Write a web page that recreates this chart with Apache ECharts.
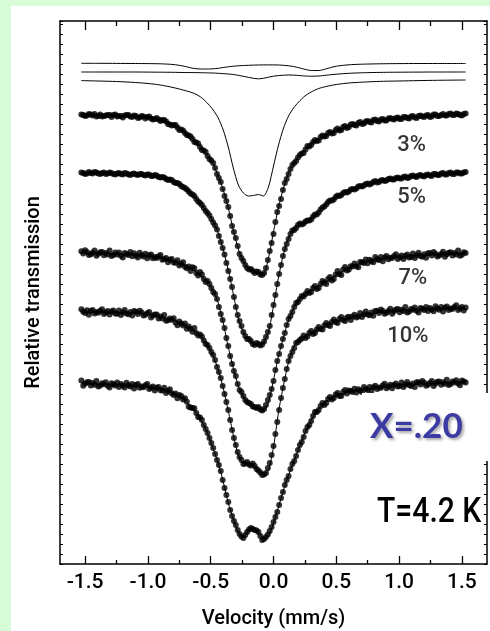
<!DOCTYPE html>
<html><head><meta charset="utf-8">
<script src="https://cdn.jsdelivr.net/npm/echarts@6/dist/echarts.min.js"></script>
<style>
html,body{margin:0;padding:0;background:#d8fcd8;width:490px;height:631px;overflow:hidden}
#chart{position:absolute;left:11px;top:6px;width:479px;height:625px;background:#fff}
</style></head><body><div id="chart"></div>
<script>
// Velocity channels (mm/s) of the measured spectra
const velocity = [-1.53,-1.515,-1.5,-1.485,-1.47,-1.455,-1.44,-1.425,-1.41,-1.395,-1.38,-1.365,-1.35,-1.335,-1.32,-1.305,-1.29,-1.275,-1.26,-1.245,-1.23,-1.215,-1.2,-1.185,-1.17,-1.155,-1.14,-1.125,-1.11,-1.095,-1.08,-1.065,-1.05,-1.035,-1.02,-1.005,-0.99,-0.975,-0.96,-0.945,-0.93,-0.915,-0.9,-0.885,-0.87,-0.855,-0.84,-0.825,-0.81,-0.795,-0.78,-0.765,-0.75,-0.735,-0.72,-0.705,-0.69,-0.675,-0.66,-0.645,-0.63,-0.615,-0.6,-0.585,-0.57,-0.555,-0.54,-0.525,-0.51,-0.495,-0.48,-0.465,-0.45,-0.435,-0.42,-0.405,-0.39,-0.375,-0.36,-0.345,-0.33,-0.315,-0.3,-0.285,-0.27,-0.255,-0.24,-0.225,-0.21,-0.195,-0.18,-0.165,-0.15,-0.135,-0.12,-0.105,-0.09,-0.075,-0.06,-0.045,-0.03,-0.015,0,0.015,0.03,0.045,0.06,0.075,0.09,0.105,0.12,0.135,0.15,0.165,0.18,0.195,0.21,0.225,0.24,0.255,0.27,0.285,0.3,0.315,0.33,0.345,0.36,0.375,0.39,0.405,0.42,0.435,0.45,0.465,0.48,0.495,0.51,0.525,0.54,0.555,0.57,0.585,0.6,0.615,0.63,0.645,0.66,0.675,0.69,0.705,0.72,0.735,0.75,0.765,0.78,0.795,0.81,0.825,0.84,0.855,0.87,0.885,0.9,0.915,0.93,0.945,0.96,0.975,0.99,1.005,1.02,1.035,1.05,1.065,1.08,1.095,1.11,1.125,1.14,1.155,1.17,1.185,1.2,1.215,1.23,1.245,1.26,1.275,1.29,1.305,1.32,1.335,1.35,1.365,1.38,1.395,1.41,1.425,1.44,1.455,1.47,1.485,1.5,1.515,1.53];

// Measured transmission (offset, arbitrary units)
const spectrum3 = [44.95,44.9,44.8,44.85,45.0,44.95,44.85,45.0,44.75,44.8,44.95,44.75,44.8,44.85,44.9,44.9,44.7,44.9,44.95,44.75,44.8,44.8,44.65,44.85,44.9,44.9,44.75,44.7,44.85,44.8,44.6,44.65,44.8,44.75,44.55,44.7,44.75,44.55,44.45,44.5,44.6,44.45,44.3,44.4,44.4,44.25,44.0,43.95,43.85,43.9,43.9,43.65,43.4,43.45,43.35,43.1,42.9,42.85,42.75,42.5,42.2,42.15,42.05,41.7,41.4,41.35,41.2,40.8,40.5,40.35,40.1,39.6,39.0,38.6,38.2,37.5,36.8,36.3,35.7,34.8,33.8,33.2,32.6,31.8,31.0,30.6,30.3,29.9,29.6,29.45,29.5,29.3,29.1,29.25,29.2,28.95,28.9,29.1,29.6,30.4,31.3,32.1,33.0,34.2,35.2,35.8,36.5,37.4,38.1,38.5,39.0,39.5,39.9,40.1,40.3,40.65,40.9,41.05,41.1,41.45,41.8,41.75,41.9,42.2,42.4,42.3,42.35,42.7,42.85,42.75,42.8,43.1,43.2,43.05,43.1,43.4,43.55,43.35,43.4,43.7,43.8,43.6,43.7,43.95,44.0,43.9,43.85,44.1,44.2,44.0,44.05,44.25,44.3,44.2,44.15,44.4,44.45,44.3,44.25,44.45,44.5,44.35,44.35,44.55,44.6,44.5,44.45,44.6,44.65,44.5,44.5,44.7,44.7,44.6,44.55,44.75,44.8,44.65,44.6,44.8,44.85,44.75,44.7,44.85,44.9,44.7,44.75,44.95,44.95,44.8,44.8,44.9,45.0,44.85,44.85,45.0,45.05,44.9,44.9,45.05,45.0,44.9,44.85,45.0,45.05];
const spectrum5 = [39.15,39.1,39.0,39.05,39.2,39.1,39.05,39.2,39.15,39.05,39.0,39.1,39.15,39.0,39.05,39.15,39.1,39.0,38.95,39.05,39.1,39.0,38.95,39.1,39.05,38.95,38.9,39.0,39.05,38.95,38.9,39.0,39.0,38.9,38.85,38.95,38.95,38.8,38.8,38.9,38.85,38.7,38.65,38.7,38.65,38.5,38.4,38.45,38.4,38.2,38.1,38.1,38.0,37.8,37.7,37.6,37.45,37.25,37.05,36.95,36.8,36.5,36.25,36.1,35.9,35.6,35.3,35.1,34.85,34.5,34.15,33.85,33.45,32.8,32.2,31.6,30.95,30.1,29.3,28.5,27.7,26.7,25.7,24.9,24.3,23.8,23.2,22.8,22.5,22.5,22.3,22.0,21.9,22.1,22.0,21.85,21.95,22.25,22.7,23.2,23.8,24.9,25.9,26.9,28.0,29.0,29.9,30.8,31.5,32.0,32.5,33.0,33.35,33.4,33.6,33.9,34.05,33.95,34.05,34.25,34.35,34.35,34.45,34.75,34.95,34.95,35.15,35.45,35.65,35.75,35.95,36.2,36.35,36.35,36.45,36.7,36.85,36.8,36.9,37.1,37.2,37.15,37.25,37.45,37.5,37.45,37.55,37.75,37.8,37.75,37.85,38.0,38.05,37.95,38.05,38.2,38.3,38.15,38.2,38.35,38.4,38.3,38.35,38.5,38.55,38.45,38.45,38.6,38.65,38.55,38.55,38.7,38.75,38.6,38.65,38.8,38.85,38.75,38.7,38.85,38.9,38.8,38.75,38.9,38.95,38.85,38.8,39.0,39.0,38.9,38.9,39.05,39.1,38.95,38.95,39.1,39.15,39.0,39.0,39.15,39.15,39.05,39.05,39.15,39.2];
const spectrum7 = [31.28,31.04,31.37,31.19,30.89,30.98,31.13,31.34,30.83,31.02,31.17,31.2,30.87,31.11,30.96,31.35,30.81,30.9,31.14,30.95,31.16,30.83,30.65,31.1,31.01,30.89,31.19,30.77,31.07,30.82,30.64,31.12,30.88,30.76,31.03,30.58,30.87,30.96,30.57,30.69,30.6,30.78,30.9,30.42,30.51,30.6,30.18,30.43,30.51,30.16,30.12,30.38,29.85,30.01,30.17,29.72,29.57,29.74,29.31,29.68,29.58,
  29.1,28.85,29.2,28.95,28.5,28.2,28.3,28.0,27.6,27.2,27.0,26.5,25.7,25.0,24.4,23.6,22.6,21.8,20.8,20.0,19.3,18.8,18.0,17.4,17.2,16.8,16.4,16.2,16.1,16.0,15.75,15.7,15.6,15.7,15.45,15.35,15.5,15.9,16.4,16.9,17.5,18.3,19.4,20.3,21.0,21.8,22.5,23.1,23.9,24.5,24.8,25.2,25.7,26.1,26.2,26.5,26.8,26.75,27.0,27.3,27.1,27.2,27.6,27.8,27.5,27.6,28.0,28.3,28.15,28.0,28.5,28.7,28.35,28.5,28.95,29.3,29.0,28.9,29.45,29.7,29.35,
  29.45,29.77,29.75,30.04,29.78,29.68,30.2,30.18,30.1,30.44,30.07,30.42,30.31,30.17,30.69,30.48,30.39,30.69,30.27,30.66,30.81,30.47,30.63,30.59,30.81,30.98,30.51,30.68,30.84,30.49,30.81,30.94,30.66,30.7,31.05,30.61,30.87,31.12,30.8,30.72,30.97,30.62,31.08,31.09,30.86,31.2,31.03,30.74,30.84,31.0,31.22,30.72,30.97,31.13,31.17,30.85,31.1,30.96,31.36,30.83,30.93,31.18,31.1];
const spectrum10 = [25.47,25.23,25.11,25.38,24.93,25.29,25.41,25.05,25.2,25.12,25.33,25.48,25.0,25.15,25.3,24.94,25.24,25.36,25.06,25.03,25.36,24.91,25.15,25.39,25.06,24.97,25.21,24.85,25.3,25.23,24.99,25.32,25.14,24.84,24.93,25.08,25.21,24.65,24.85,24.95,24.94,24.56,24.76,24.56,24.91,24.32,24.37,24.56,24.43,24.58,24.16,23.88,24.24,24.06,23.84,24.05,23.53,23.74,23.5,23.22,23.61,
  23.1,22.85,22.95,22.75,22.35,22.0,21.9,21.6,21.2,20.9,20.4,19.7,19.2,18.6,17.8,17.0,16.2,15.4,14.4,13.4,12.6,11.9,11.2,10.7,10.4,10.0,10.05,10.2,9.95,9.85,10.05,9.8,9.5,9.35,9.15,8.9,8.95,9.1,9.6,10.1,10.9,11.8,13.0,14.2,15.4,16.6,17.6,18.5,19.5,20.3,20.8,21.2,21.6,22.1,22.2,22.4,22.55,22.85,22.6,22.75,23.1,23.3,23.0,23.1,23.45,23.7,23.5,23.45,23.85,24.1,23.9,23.8,24.2,24.45,24.2,24.1,24.5,24.7,24.4,24.3,24.65,
  24.72,24.41,24.75,24.92,24.66,24.74,25.11,24.7,24.97,25.24,24.94,24.88,25.15,24.82,25.3,25.32,25.1,25.45,25.3,25.02,25.13,25.3,25.52,25.03,25.28,25.45,25.49,25.18,25.43,25.29,25.69,25.16,25.26,25.51,25.43,25.65,25.33,25.15,25.61,25.52,25.41,25.71,25.3,25.6,25.46,25.28,25.77,25.54,25.42,25.7,25.25,25.62,25.75,25.39,25.55,25.49,25.71,25.87,25.39,25.55,25.71,25.35,25.66];
const spectrum20 = [18.34,17.82,18.05,18.18,18.2,17.86,18.09,17.93,18.31,17.76,17.84,18.07,17.97,18.17,17.83,17.64,18.08,17.98,17.85,18.14,17.71,18.0,17.84,17.65,18.12,17.87,17.74,18.0,17.54,17.89,18.0,17.62,17.76,17.68,17.88,18.01,17.5,17.62,17.74,17.35,17.62,17.71,17.38,17.35,17.62,17.11,17.29,17.47,17.08,16.91,17.04,16.57,16.91,16.79,16.44,16.58,16.22,15.73,15.64,15.6,15.57,
  15.1,14.7,14.65,14.4,13.9,13.5,13.1,12.6,12.1,11.6,11.0,10.4,9.9,9.3,8.4,7.6,6.9,6.2,5.4,4.8,4.3,3.9,3.4,3.0,2.75,2.6,2.9,3.2,3.45,3.6,3.5,3.4,3.35,3.2,2.8,2.4,2.5,2.7,2.95,3.3,3.7,4.2,4.7,5.2,5.9,6.6,7.2,7.9,8.4,8.8,9.5,10.0,10.3,10.8,11.4,11.9,12.2,12.7,13.3,13.7,13.9,14.3,14.8,15.2,15.2,15.4,15.8,16.1,15.9,16.1,16.5,16.7,16.45,16.6,16.95,17.1,16.8,16.8,17.2,17.4,17.05,
  17.35,17.29,17.2,17.53,17.14,17.47,17.35,17.2,17.71,17.5,17.41,17.71,17.29,17.68,17.83,17.49,17.66,17.63,17.86,18.03,17.57,17.74,17.92,17.58,17.9,18.04,17.76,17.81,18.15,17.71,17.96,18.21,17.89,17.81,18.06,17.71,18.17,18.18,17.95,18.29,18.12,17.83,17.93,18.09,18.31,17.81,18.06,18.22,18.25,17.93,18.18,18.03,18.43,17.9,17.99,18.24,18.16,18.38,18.05,17.88,18.34,18.25,18.14];

// Fitted curves
const fitVelocity = [-1.53,-1.4,-1.25,-1.1,-1.0,-0.9,-0.8,-0.72,-0.64,-0.58,-0.52,-0.48,-0.44,-0.40,-0.36,-0.32,-0.28,-0.24,-0.20,-0.16,-0.12,-0.08,-0.04,0,0.04,0.08,0.12,0.16,0.20,0.25,0.30,0.36,0.42,0.50,0.60,0.70,0.80,0.90,1.0,1.15,1.3,1.53];
const componentA = [50.07,50.07,50.06,50.05,50.04,50.02,49.95,49.80,49.57,49.50,49.50,49.52,49.57,49.65,49.72,49.78,49.82,49.85,49.87,49.89,49.90,49.91,49.91,49.91,49.90,49.87,49.82,49.75,49.63,49.47,49.35,49.35,49.52,49.78,49.92,49.98,50.01,50.03,50.04,50.05,50.05,50.05];
const componentB = [49.20,49.20,49.20,49.20,49.19,49.18,49.17,49.15,49.14,49.13,49.11,49.10,49.07,49.04,49.00,48.95,48.87,48.77,48.67,48.57,48.52,48.57,48.68,48.78,48.84,48.88,48.90,48.89,48.85,48.80,48.78,48.80,48.88,48.98,49.07,49.12,49.15,49.17,49.18,49.19,49.20,49.20];
const envelope = [48.34,48.30,48.25,48.15,48.05,47.90,47.65,47.40,47.10,46.70,46.00,45.40,44.60,43.40,41.70,39.60,37.90,37.10,36.80,36.85,36.95,36.80,37.70,39.80,41.90,43.60,44.80,45.60,46.20,46.80,47.20,47.55,47.75,47.95,48.10,48.18,48.24,48.28,48.30,48.34,48.37,48.40];
const fit3 = [44.90,44.90,44.85,44.80,44.70,44.40,43.90,43.30,42.50,41.70,40.80,40.00,38.80,37.40,35.60,33.40,31.50,30.20,29.50,29.25,29.10,28.95,30.60,33.20,35.70,37.60,39.10,40.00,40.70,41.40,42.00,42.50,42.90,43.35,43.80,44.10,44.30,44.45,44.55,44.70,44.80,44.90];
const fit5 = [39.10,39.10,39.05,39.00,38.90,38.70,38.30,37.70,36.90,36.00,35.00,34.20,33.10,31.40,29.40,27.00,24.60,23.10,22.40,22.05,21.90,22.10,23.20,25.80,28.70,31.00,32.60,33.50,33.90,34.15,34.50,35.20,36.00,36.70,37.30,37.80,38.20,38.40,38.60,38.80,38.95,39.10];
const fit7 = [31.10,31.10,31.00,30.90,30.80,30.60,30.30,29.90,29.40,28.80,28.10,27.30,26.10,24.10,21.70,19.60,17.80,16.70,16.10,15.80,15.60,15.40,16.20,18.40,20.80,22.70,24.40,25.60,26.40,27.00,27.40,27.80,28.20,28.90,29.60,30.10,30.40,30.60,30.70,30.85,30.95,31.10];
const fit10 = [25.20,25.20,25.15,25.10,25.00,24.70,24.40,23.90,23.40,22.80,21.70,20.80,19.40,17.60,15.30,12.90,10.90,10.10,10.10,9.80,9.30,9.00,9.40,11.70,15.20,17.90,20.20,21.70,22.40,22.80,23.10,23.50,23.90,24.30,24.60,24.90,25.10,25.25,25.35,25.45,25.50,25.60];
const fit20 = [18.10,18.00,17.90,17.80,17.70,17.50,17.10,16.50,15.50,14.50,12.90,11.50,10.10,8.20,6.10,4.50,3.20,2.70,3.30,3.60,3.10,2.60,2.80,4.10,5.70,7.40,8.90,10.20,11.50,13.10,14.40,15.50,16.30,16.80,17.20,17.40,17.60,17.75,17.90,18.00,18.10,18.20];

// Axis ticks
const xMajorTicks = [-1.5,-1.0,-0.5,0.0,0.5,1.0,1.5];
const xMinorTicks = [-1.25,-0.75,-0.25,0.25,0.75,1.25];

// Curve labels
const curveLabels = ['3%','5%','7%','10%','20%'];
const curveLabelVelocity = [1.10,1.10,1.11,1.07,1.07];
const curveLabelLevel = [41.9,36.7,28.6,22.8,16.1];

const FONT = "'Liberation Sans Narrow', Roboto, sans-serif";
const pairs = (xs, ys) => xs.map((x, i) => [x, ys[i]]);
const axisColor = '#000';

function xAxisDef(position, ticks, len, showLine, showLabel, extra) {
  return Object.assign({
    type: 'value', position: position, min: -1.7, max: 1.7,
    axisLine: {show: showLine, onZero: false, lineStyle: {color: axisColor, width: 1.5}},
    axisTick: {show: true, inside: true, length: len, customValues: ticks, lineStyle: {color: axisColor, width: 1.3}},
    axisLabel: {show: showLabel, customValues: ticks, formatter: v => v.toFixed(1), margin: 8, fontSize: 21, fontWeight: 500, color: axisColor, fontFamily: FONT},
    splitLine: {show: false}
  }, extra || {});
}
function yAxisDef(position, extra) {
  return Object.assign({
    type: 'value', position: position, min: 0, max: 54.3, interval: 1,
    axisLine: {show: true, onZero: false, lineStyle: {color: axisColor, width: 1.5}},
    axisTick: {show: true, inside: true, length: 3, lineStyle: {color: axisColor, width: 1}},
    axisLabel: {show: false}, splitLine: {show: false}
  }, extra || {});
}

const lineSeries = (data) => ({
  type: 'line', data: data, symbol: 'none', smooth: 0.25, silent: true, z: 3,
  lineStyle: {color: '#000', width: 1}
});
const dotSeries = (data) => ({
  type: 'scatter', data: data, symbol: 'circle', symbolSize: 6, silent: true, z: 4,
  itemStyle: {color: '#000'}
});

const chart = echarts.init(document.getElementById('chart'), null, {renderer: 'canvas'});
chart.setOption({
  animation: false,
  backgroundColor: '#fff',
  grid: {left: 49, top: 15, width: 427, height: 543, containLabel: false, outerBoundsMode: 'none'},
  title: [
    {text: 'X=.20', left: 351, top: 387, padding: [14, 30, 14, 8], backgroundColor: '#fff', z: 10,
     textStyle: {fontSize: 35, fontWeight: 'bold', color: '#3b3ba3', fontFamily: "Lato, 'Noto Sans', sans-serif", lineHeight: 40,
       textShadowColor: 'rgba(0,0,0,0.35)', textShadowBlur: 3, textShadowOffsetX: 2, textShadowOffsetY: 2}}
  ],
  graphic: [
    {type: 'text', x: 366, y: 490, scaleX: 0.86, z: 100,
     style: {text: 'T=4.2 K', font: "500 35px Roboto, sans-serif", fill: '#000'}}
  ],
  xAxis: [
    xAxisDef('bottom', xMajorTicks, 8, true, true, {
      name: 'Velocity (mm/s)', nameLocation: 'middle', nameGap: 45,
      nameTextStyle: {fontSize: 20, fontWeight: 500, color: axisColor, fontFamily: FONT}}),
    xAxisDef('bottom', xMinorTicks, 4, false, false),
    xAxisDef('top', xMajorTicks, 9, true, false),
    xAxisDef('top', xMinorTicks, 5, false, false)
  ],
  yAxis: [
    yAxisDef('left', {name: 'Relative transmission', nameLocation: 'middle', nameGap: 16,
      nameTextStyle: {fontSize: 20, fontWeight: 500, color: axisColor, fontFamily: FONT}}),
    yAxisDef('right')
  ],
  series: [
    lineSeries(pairs(fitVelocity, componentA)),
    lineSeries(pairs(fitVelocity, componentB)),
    lineSeries(pairs(fitVelocity, envelope)),
    lineSeries(pairs(fitVelocity, fit3)),
    lineSeries(pairs(fitVelocity, fit5)),
    lineSeries(pairs(fitVelocity, fit7)),
    lineSeries(pairs(fitVelocity, fit10)),
    lineSeries(pairs(fitVelocity, fit20)),
    dotSeries(pairs(velocity, spectrum3)),
    dotSeries(pairs(velocity, spectrum5)),
    dotSeries(pairs(velocity, spectrum7)),
    dotSeries(pairs(velocity, spectrum10)),
    dotSeries(pairs(velocity, spectrum20)),
    {type: 'scatter', symbolSize: 0, silent: true, z: 5,
     data: curveLabels.map((t, i) => [curveLabelVelocity[i], curveLabelLevel[i], t]),
     label: {show: true, position: 'inside', formatter: p => p.value[2], fontSize: 22, fontWeight: 500, color: '#000', fontFamily: FONT}}
  ]
});
</script></body></html>
